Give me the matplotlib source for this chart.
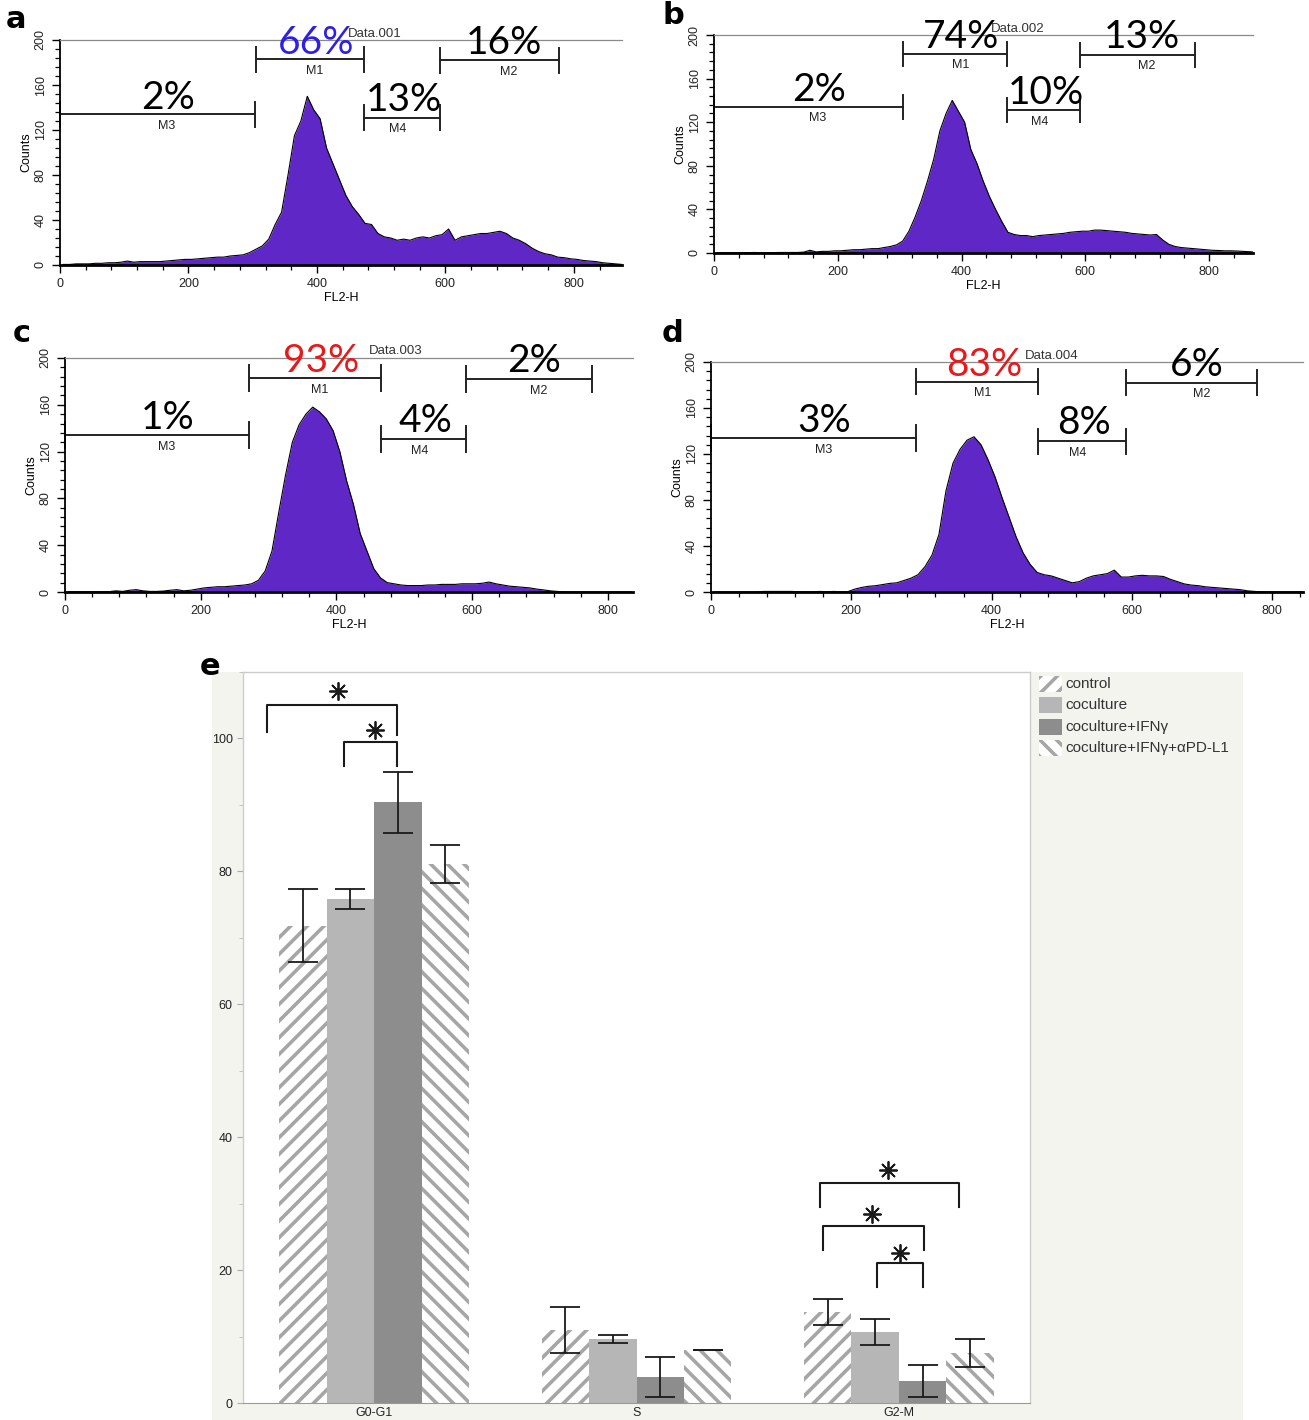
import numpy as np
import matplotlib
matplotlib.use('Agg')
import matplotlib.pyplot as plt
from matplotlib.patches import Rectangle

W, H = 1309, 1420
plt.rcParams['font.family'] = ['Liberation Sans', 'DejaVu Sans']
plt.rcParams['hatch.linewidth'] = 2.6

# ---------------- data: flow cytometry histograms (counts per 10-channel bin of FL2-H)
BIN = 10
counts_a = [0.5, 0.5, 1, 1, 1, 1.5, 1.5, 2, 2, 2.5,
            3.5, 2.5, 3, 3, 3, 3, 3.5, 4, 4.5, 5,
            5, 5.5, 6, 6.5, 7, 7, 8, 8.5, 9, 11,
            14, 17, 23, 36, 47, 80, 115, 128, 150, 138,
            130, 104, 90, 76, 62, 52, 45, 37, 36, 28,
            25, 24, 22, 23, 22, 24, 25, 24, 26, 27,
            32, 22, 25, 26, 27, 28, 28, 29, 30, 28,
            24, 22, 19, 15, 12, 10, 9, 7, 6.5, 5.5,
            5, 4, 3.5, 3, 2, 1.5, 1, 0.5]
counts_b = [0.3, 0.3, 0.3, 0.3, 0.3, 0.3, 0.5, 0.3, 0.3, 0.3,
            0.5, 0.5, 0.5, 0.5, 0.8, 2.5, 1, 1.5, 1.5, 2,
            2, 2.5, 3, 3, 3.5, 4, 4, 5, 6, 7.5,
            11, 20, 33, 48, 66, 86, 112, 128, 140, 130,
            120, 95, 82, 66, 52, 40, 29, 19, 17, 16,
            16, 15, 16, 16.5, 17, 17.5, 18, 19, 19.5, 20,
            20, 21, 21, 20.5, 20, 19.5, 19, 18, 17.5, 17,
            16.5, 17, 12, 8, 6, 5, 4.5, 4, 3.5, 3,
            2.5, 2.3, 2, 2, 1.8, 1.5, 1.2, 0.8]
counts_c = [0.2, 0.2, 0.2, 0.2, 0.2, 0.3, 0.3, 1, 0.5, 1.5,
            2, 1, 0.5, 0.5, 0.8, 1.5, 2, 1, 1.5, 2.5,
            3.5, 4, 4.5, 4.5, 5, 5.5, 6, 7, 10, 18,
            35, 68, 100, 128, 143, 152, 158, 154, 148, 138,
            120, 95, 75, 50, 35, 20, 12, 8, 7, 6,
            5.5, 5.5, 5.5, 6, 6, 6.5, 6.5, 6.5, 7, 7,
            7, 7.5, 8.5, 7, 6, 5, 4.5, 4, 3.5, 2.5,
            1.8, 1, 0.5, 0.2, 0.1, 0.1, 0.1, 0.1, 0.1, 0.1,
            0.1, 0.1, 0.1, 0.1]
counts_d = [0.1, 0.1, 0.1, 0.1, 0.1, 0.1, 0.1, 0.5, 0.5, 0.5,
            0.5, 0.5, 0.2, 0.2, 0.2, 0.5, 0.2, 0.5, 0.2, 0.3,
            2.5, 4, 5, 5.5, 6.5, 7.5, 8, 10, 12, 15,
            22, 32, 50, 88, 112, 124, 132, 135, 128, 115,
            100, 82, 65, 48, 34, 24, 17, 15, 14, 12,
            10, 8, 9, 12, 14, 15, 16, 19, 13, 13,
            14, 14.5, 14, 14, 13.5, 11, 9, 7, 6, 5.5,
            4.5, 4, 3.5, 3, 2.5, 2, 1, 0.5, 0.2, 0.1,
            0.1, 0.1, 0.1, 0.1, 0.1]

gate_names = ['M1', 'M2', 'M3', 'M4']
gates_a = [(305, 473), (592, 777), (0, 303), (473, 592)]
gates_b = [(306, 474), (592, 778), (0, 306), (474, 592)]
gates_c = [(271, 465), (591, 776), (0, 271), (465, 591)]
gates_d = [(292, 466), (592, 778), (0, 292), (466, 592)]
pct_a = ['66%', '16%', '2%', '13%']
pct_b = ['74%', '13%', '2%', '10%']
pct_c = ['93%', '2%', '1%', '4%']
pct_d = ['83%', '6%', '3%', '8%']

# ---------------- data: cell-cycle distribution (%)
phases = ['G0-G1', 'S', 'G2-M']
groups = ['control', 'coculture', 'coculture+IFNγ', 'coculture+IFNγ+αPD-L1']
mean_control = [71.8, 11.0, 13.7]
mean_coculture = [75.8, 9.6, 10.7]
mean_ifng = [90.4, 3.9, 3.3]
mean_pdl1 = [81.1, 8.0, 7.5]
err_control = [5.5, 3.45, 2.0]
err_coculture = [1.5, 0.6, 2.0]
err_ifng = [4.6, 3.0, 2.35]
err_pdl1 = [2.8, 0.05, 2.1]

# ---------------- figure
fig = plt.figure(figsize=(W / 100, H / 100), dpi=100)
fig.add_artist(Rectangle((212 / W, 0), (1243 - 212) / W, (1420 - 672) / H,
                         transform=fig.transFigure, facecolor='#f4f4ef',
                         edgecolor='none', zorder=-10))


def px_axes(left, top, right, bottom):
    return fig.add_axes([left / W, 1 - bottom / H, (right - left) / W, (bottom - top) / H])


PURPLE = '#5f28c6'
GATE_Y = [183, 182, 134, 131]
PCT_BASE = [188, 188, 139, 137]
PCT_OFF = [10, 7, 16, 3]
LBL_OFF = [8, 14, 14, -6]


def draw_hist(rect, xmax, counts, gates, pcts, m1_color, data_name):
    ax = px_axes(*rect)
    centers = (np.arange(len(counts)) + 0.5) * BIN
    ax.fill_between(centers, counts, 0, color=PURPLE, lw=0)
    ax.plot(centers, counts, color='black', lw=0.8)
    ax.set_xlim(0, xmax)
    ax.set_ylim(0, 200)
    ax.spines['right'].set_visible(False)
    ax.spines['top'].set_color('#8a8a8a')
    ax.spines['top'].set_linewidth(0.9)
    ax.spines['left'].set_linewidth(1.3)
    ax.spines['bottom'].set_linewidth(2.0)
    ax.set_xticks([0, 200, 400, 600, 800])
    ax.set_xticks(np.arange(0, xmax, 40), minor=True)
    ax.set_yticks(range(0, 201, 40))
    ax.set_yticks(np.arange(0, 201, 8), minor=True)
    ax.set_yticklabels([str(v) for v in range(0, 201, 40)], rotation=90, va='center')
    ax.tick_params(axis='both', which='major', labelsize=9, length=6, width=1.0,
                   labelcolor='#222222')
    ax.tick_params(axis='both', which='minor', length=3.5, width=0.9)
    ax.set_xlabel('FL2-H', fontsize=9, labelpad=1)
    ax.set_ylabel('Counts', fontsize=9, labelpad=2)
    for i, ((lo, hi), name, pct) in enumerate(zip(gates, gate_names, pcts)):
        yb = GATE_Y[i]
        ax.plot([lo, hi], [yb, yb], color='#222222', lw=1.4, clip_on=False)
        ax.plot([lo, lo], [yb - 11, yb + 11], color='#222222', lw=1.4, clip_on=False)
        ax.plot([hi, hi], [yb - 11, yb + 11], color='#222222', lw=1.4, clip_on=False)
        c = (lo + hi) / 2
        ax.text(c + LBL_OFF[i], yb - 5, name, ha='center', va='top', fontsize=9,
                color='#222222')
        col = m1_color if i == 0 else 'black'
        ax.text(c + PCT_OFF[i], PCT_BASE[i], pct, ha='center', va='baseline',
                fontsize=28, family='Lato', color=col, zorder=5)
    ax.text(448, 203, data_name, ha='left', va='baseline', fontsize=9.5, color='#333333')
    return ax


draw_hist((60, 40, 622, 265), 875, counts_a, gates_a, pct_a, '#2e1fe6', 'Data.001')
draw_hist((714, 35, 1253, 253), 871, counts_b, gates_b, pct_b, 'black', 'Data.002')
draw_hist((65, 358, 633, 592), 837, counts_c, gates_c, pct_c, '#e8191b', 'Data.003')
draw_hist((711, 362, 1303, 592), 844, counts_d, gates_d, pct_d, '#e8191b', 'Data.004')

for letter, (x, y) in zip('abcde', [(16, 19), (673, 16), (22, 333), (672, 333), (210, 666)]):
    fig.text(x / W, 1 - y / H, letter, fontsize=22, fontweight='bold', ha='center',
             va='center', family='DejaVu Sans')

# ---------------- panel e
axe = px_axes(243, 672, 1030, 1403)
axe.set_facecolor('white')
xg = np.arange(len(phases))
width = 0.181
means = [mean_control, mean_coculture, mean_ifng, mean_pdl1]
errs = [err_control, err_coculture, err_ifng, err_pdl1]
HATCH_C = '#a6a6a6'
styles = [dict(facecolor='white', edgecolor=HATCH_C, hatch='//'),
          dict(facecolor='#b6b6b6', edgecolor='#b6b6b6'),
          dict(facecolor='#8d8d8d', edgecolor='#8d8d8d'),
          dict(facecolor='white', edgecolor=HATCH_C, hatch='\\\\')]
for i, (m, e, st) in enumerate(zip(means, errs, styles)):
    pos = xg + (i - 1.5) * width
    axe.bar(pos, m, width, linewidth=0, zorder=2, **st)
    axe.errorbar(pos, m, yerr=e, fmt='none', ecolor='#1a1a1a', elinewidth=1.3,
                 capsize=11, capthick=1.3, zorder=3)

axe.set_xlim(-0.5, 2.5)
axe.set_ylim(0, 110)
axe.set_xticks(xg)
axe.set_xticklabels(phases)
axe.set_yticks(range(0, 101, 20))
axe.set_yticks(range(10, 111, 20), minor=True)
axe.tick_params(axis='x', length=0, labelsize=9, labelcolor='#222222', pad=3)
axe.tick_params(axis='y', which='major', length=4, color='#aaaaaa', labelsize=9,
                labelcolor='#222222')
axe.tick_params(axis='y', which='minor', length=3, color='#bbbbbb')
for s in ['left', 'top', 'right']:
    axe.spines[s].set_color('#cccccc')
    axe.spines[s].set_linewidth(1.0)
axe.spines['bottom'].set_color('#9a9a9a')

# significance brackets: (x_left, x_right, top, left leg end, right leg end, star x, star y)
brackets = [(-0.408, 0.088, 105.0, 100.9, 100.5, -0.137, 107.2),
            (-0.114, 0.088, 99.5, 95.8, 95.8, 0.004, 101.3),
            (1.700, 2.230, 33.1, 29.5, 29.5, 1.960, 35.1),
            (1.712, 2.097, 26.6, 23.0, 23.0, 1.899, 28.4),
            (1.918, 2.093, 21.0, 17.4, 17.4, 2.005, 22.6)]
for x0, x1, top, l0, l1, sx, sy in brackets:
    axe.plot([x0, x0, x1, x1], [l0, top, top, l1], color='#1a1a1a', lw=1.5, zorder=4)
    axe.plot(sx, sy, marker=(8, 2, 0), ms=13, color='#1a1a1a', mew=1.3, zorder=4)

# legend drawn in a pixel-coordinate axes to keep the hatching visible
axl = px_axes(1030, 672, 1243, 765)
axl.set_xlim(1030, 1243)
axl.set_ylim(765, 672)
axl.axis('off')
for i, (name, st) in enumerate(zip(groups, styles)):
    yc = 684 + i * 21.3
    axl.add_patch(Rectangle((1039, yc - 8), 23, 16, linewidth=0, **st))
    axl.text(1065, yc, name, ha='left', va='center', fontsize=11, color='#333333')

fig.savefig('out.png', dpi=100)
